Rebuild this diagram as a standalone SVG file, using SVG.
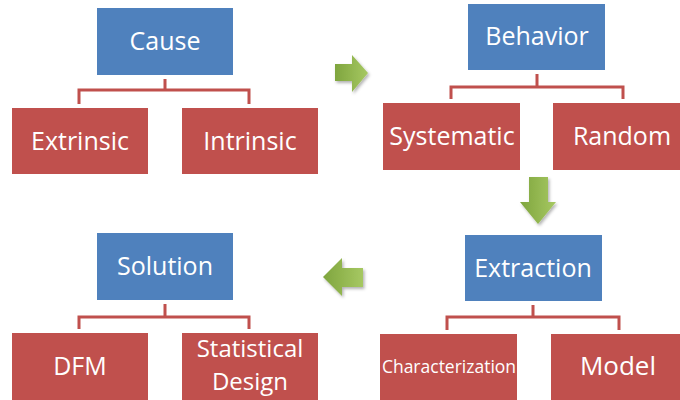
<svg xmlns="http://www.w3.org/2000/svg" width="680" height="400" viewBox="0 0 680 400">
  <defs>
    <style>
      .head { fill: #4F81BD; }
      .leaf { fill: #C0504D; }
      .lbl { font-family: "Open Sans", "Liberation Sans", sans-serif; font-size: 25px; fill: #FFFFFF; text-anchor: middle; }
      .conn { fill: none; stroke: #C0504D; stroke-width: 3; stroke-linejoin: miter; }
      .flow { stroke: none; filter: url(#shadow); }
    </style>
    <linearGradient id="gH" x1="0" y1="0" x2="1" y2="0">
      <stop offset="0" stop-color="#7FA53E"/>
      <stop offset="1" stop-color="#A6C862"/>
    </linearGradient>
    <linearGradient id="gD" x1="0" y1="0" x2="1" y2="0">
      <stop offset="0" stop-color="#7FA53E"/>
      <stop offset="1" stop-color="#A6C862"/>
    </linearGradient>
    <filter id="shadow" x="-30%" y="-30%" width="160%" height="160%">
      <feDropShadow dx="1.5" dy="2" stdDeviation="1.5" flood-color="#000000" flood-opacity="0.3"/>
    </filter>
  </defs>

  <rect width="680" height="400" fill="#FFFFFF"/>

  <!-- connectors: tree brackets and flow arrows -->
  <g id="connectors">
    <path class="conn" d="M165 79 V90 M79 104 V90 H249 V104"/>
    <path class="conn" d="M537 74 V87 M451 99 V87 H623 V99"/>
    <path class="conn" d="M533 305 V317 M447 330 V317 H619 V330"/>
    <path class="conn" d="M165 304 V317 M79 329 V317 H249 V329"/>
    <!-- cause to behavior -->
    <path class="flow" fill="url(#gH)" d="M335 64 H352 V55 L368 73 L352 92 V81 H335 Z"/>
    <!-- behavior to extraction -->
    <path class="flow" fill="url(#gD)" d="M529 177 H548 V202 H556 L538 224 L520 202 H529 Z"/>
    <!-- extraction to solution -->
    <path class="flow" fill="url(#gH)" d="M363 268 H342 V258 L323 277 L342 296 V287 H363 Z"/>
  </g>

  <g id="cause">
    <rect class="head" x="97" y="8" width="136" height="67"/>
    <text class="lbl" x="165" y="50">Cause</text>
  </g>
  <g id="extrinsic">
    <rect class="leaf" x="12" y="108" width="136" height="66"/>
    <text class="lbl" x="80" y="150">Extrinsic</text>
  </g>
  <g id="intrinsic">
    <rect class="leaf" x="182" y="108" width="136" height="66"/>
    <text class="lbl" x="250" y="150">Intrinsic</text>
  </g>

  <g id="behavior">
    <rect class="head" x="468" y="4" width="137" height="66"/>
    <text class="lbl" x="537" y="45">Behavior</text>
  </g>
  <g id="systematic">
    <rect class="leaf" x="383" y="103" width="137" height="67"/>
    <text class="lbl" x="452" y="145">Systematic</text>
  </g>
  <g id="random">
    <rect class="leaf" x="553" y="103" width="127" height="67"/>
    <text class="lbl" x="622" y="145">Random</text>
  </g>

  <g id="extraction">
    <rect class="head" x="465" y="235" width="137" height="66"/>
    <text class="lbl" x="533" y="277">Extraction</text>
  </g>
  <g id="characterization">
    <rect class="leaf" x="380" y="334" width="137" height="66"/>
    <text class="lbl" x="449" y="373" style="font-size:17.5px">Characterization</text>
  </g>
  <g id="model">
    <rect class="leaf" x="551" y="334" width="129" height="66"/>
    <text class="lbl" x="618" y="375" style="font-size:26px">Model</text>
  </g>

  <g id="solution">
    <rect class="head" x="97" y="233" width="136" height="67"/>
    <text class="lbl" x="165" y="275">Solution</text>
  </g>
  <g id="dfm">
    <rect class="leaf" x="12" y="333" width="136" height="67"/>
    <text class="lbl" x="80" y="375">DFM</text>
  </g>
  <g id="statistical-design">
    <rect class="leaf" x="182" y="333" width="136" height="67"/>
    <text class="lbl" x="250" y="357" style="font-size:24px">Statistical</text>
    <text class="lbl" x="250" y="390" style="font-size:24px">Design</text>
  </g>
</svg>
